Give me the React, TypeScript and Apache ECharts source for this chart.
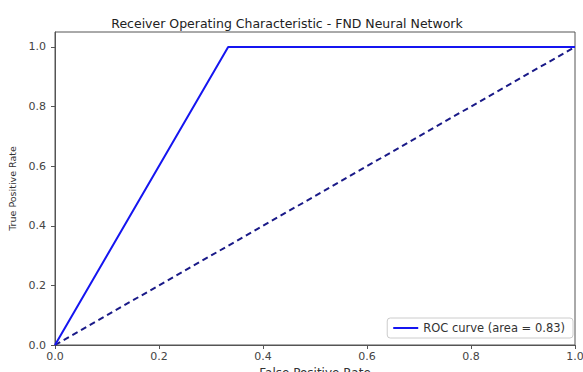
import React, { useEffect, useRef } from "react";
import * as echarts from "echarts";

const fpr = [0, 0.333, 1];
const tpr = [0, 1, 1];
const diagX = [0, 1];
const diagY = [0, 1];
const xTicks = [0, 0.2, 0.4, 0.6, 0.8, 1.0];
const yTicks = [0, 0.2, 0.4, 0.6, 0.8, 1.0];
const aucLabel = "ROC curve (area = 0.83)";

export default function App() {
  const ref = useRef<HTMLDivElement>(null);
  useEffect(() => {
    const chart = echarts.init(ref.current!, null, { renderer: "svg" });
    const font = "DejaVu Sans";
    const frame = { show: true, lineStyle: { color: "#555", width: 1 } };
    chart.setOption({
      animation: false,
      backgroundColor: "#fff",
      textStyle: { fontFamily: font },
      title: {
        text: "Receiver Operating Characteristic - FND Neural Network",
        left: 282,
        textAlign: "center",
        top: 12,
        textStyle: { fontFamily: font, fontSize: 12.5, fontWeight: "normal", color: "#222" },
      },
      grid: {
        left: 55,
        right: 8,
        top: 32,
        bottom: 27,
        containLabel: false,
        outerBoundsMode: "none",
        show: true,
        borderColor: "#555",
        borderWidth: 1,
        backgroundColor: "transparent",
      },
      legend: {
        data: [aucLabel],
        right: 10,
        bottom: 34,
        icon: "rect",
        itemWidth: 25,
        itemHeight: 2,
        itemGap: 6,
        padding: [4, 8, 4, 6],
        borderColor: "#ccc",
        borderWidth: 1,
        borderRadius: 3,
        backgroundColor: "#fff",
        textStyle: { fontFamily: font, fontSize: 11.5, color: "#333" },
      },
      xAxis: {
        type: "value",
        min: 0,
        max: 1,
        interval: 0.2,
        position: "bottom",
        name: "False Positive Rate",
        nameLocation: "middle",
        nameGap: 20,
        nameTextStyle: { fontFamily: font, fontSize: 12, color: "#333" },
        axisLine: frame,
        axisTick: { show: true, length: 4, lineStyle: { color: "#555" } },
        axisLabel: {
          fontFamily: font,
          fontSize: 11,
          color: "#444",
          margin: 6,
          formatter: (v: number) => (xTicks.some((t) => Math.abs(t - v) < 1e-6) ? v.toFixed(1) : ""),
        },
        splitLine: { show: false },
      },
      yAxis: {
        type: "value",
        min: 0,
        max: 1.05,
        interval: 0.2,
        position: "left",
        name: "True Positive Rate",
        nameLocation: "middle",
        nameGap: 35,
        nameTextStyle: { fontFamily: font, fontSize: 9.5, color: "#333" },
        axisLine: frame,
        axisTick: { show: true, length: 4, lineStyle: { color: "#555" } },
        axisLabel: {
          fontFamily: font,
          fontSize: 11,
          color: "#444",
          margin: 9,
          showMaxLabel: false,
          formatter: (v: number) => (yTicks.some((t) => Math.abs(t - v) < 1e-6) ? v.toFixed(1) : ""),
        },
        splitLine: { show: false },
      },
      series: [
        {
          name: aucLabel,
          type: "line",
          data: fpr.map((x, i) => [x, tpr[i]]),
          showSymbol: false,
          symbol: "none",
          lineStyle: { color: "#1515f0", width: 2 },
          itemStyle: { color: "#1515f0" },
          clip: false,
          z: 3,
        },
        {
          name: "diag",
          type: "line",
          data: diagX.map((x, i) => [x, diagY[i]]),
          showSymbol: false,
          symbol: "none",
          lineStyle: { color: "#1a1a88", width: 2, type: [6, 4] },
          itemStyle: { color: "#1a1a88" },
          clip: false,
          z: 2,
        },
      ],
    });
    return () => chart.dispose();
  }, []);
  return <div ref={ref} style={{ width: 583, height: 372, position: "fixed", left: 0, top: 0 }} />;
}
